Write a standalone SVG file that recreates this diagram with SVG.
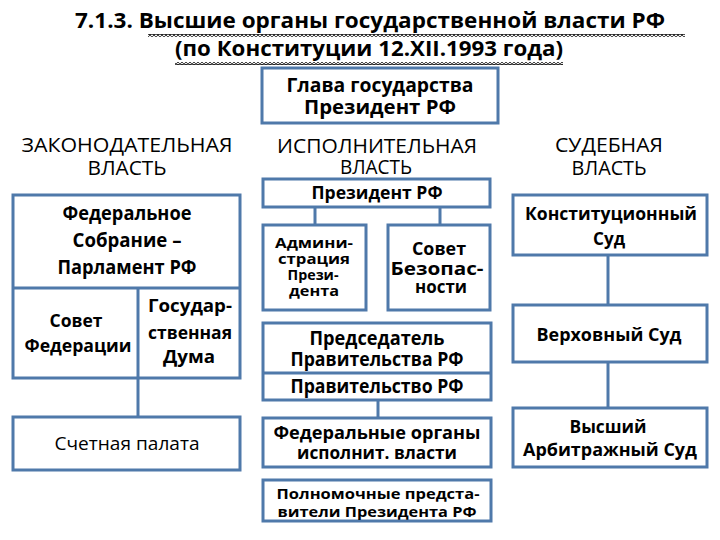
<svg xmlns="http://www.w3.org/2000/svg" width="720" height="540" viewBox="0 0 720 540">
<style>
.box{fill:#ffffff;stroke:#4F79AA;stroke-width:3}
.conn line{stroke:#4F79AA;stroke-width:3}
text{font-family:"Open Sans","Noto Sans",sans-serif;fill:#000;text-anchor:middle;font-weight:bold}
.h{font-weight:normal;font-size:20px}
.title{font-size:22px;text-anchor:start}
.n{font-weight:normal}
</style>
<defs>
<pattern id="wave" width="4" height="3" patternUnits="userSpaceOnUse">
<path d="M0,0.5 L2,2.5 L4,0.5" fill="none" stroke="#111" stroke-width="1.2"/>
</pattern>
</defs>
<rect width="720" height="540" fill="#ffffff"/>
<g id="title">
<text class="title" x="75" y="28" textLength="590" lengthAdjust="spacingAndGlyphs">7.1.3. Высшие органы государственной власти РФ</text>
<text class="title" x="175" y="56" textLength="388" lengthAdjust="spacingAndGlyphs">(по Конституции 12.XII.1993 года)</text>
<rect x="148" y="34" width="537" height="3" fill="url(#wave)"/>
<rect x="175" y="62" width="388" height="3" fill="url(#wave)"/>
</g>
<g id="headers">
<text class="h" x="127" y="152" textLength="211" lengthAdjust="spacingAndGlyphs">ЗАКОНОДАТЕЛЬНАЯ</text>
<text class="h" x="127" y="175" textLength="79" lengthAdjust="spacingAndGlyphs">ВЛАСТЬ</text>
<text class="h" x="377" y="153" textLength="200" lengthAdjust="spacingAndGlyphs">ИСПОЛНИТЕЛЬНАЯ</text>
<text class="h" x="376" y="174" textLength="72" lengthAdjust="spacingAndGlyphs">ВЛАСТЬ</text>
<text class="h" x="609" y="152" textLength="108" lengthAdjust="spacingAndGlyphs">СУДЕБНАЯ</text>
<text class="h" x="609" y="175" textLength="75" lengthAdjust="spacingAndGlyphs">ВЛАСТЬ</text>
</g>
<g id="connectors" class="conn">
<line x1="315" y1="207" x2="315" y2="225"/>
<line x1="440" y1="207" x2="440" y2="225"/>
<line x1="378" y1="400" x2="378" y2="418"/>
<line x1="138" y1="378" x2="138" y2="417"/>
<line x1="608" y1="255" x2="608" y2="305"/>
<line x1="608" y1="362" x2="608" y2="408"/>
</g>
<g id="head-of-state">
<rect class="box" x="262" y="68" width="236" height="55"/>
<text x="380" y="92" font-size="20" textLength="187" lengthAdjust="spacingAndGlyphs">Глава государства</text>
<text x="380" y="114" font-size="20" textLength="152" lengthAdjust="spacingAndGlyphs">Президент РФ</text>
</g>
<g id="president">
<rect class="box" x="263" y="179" width="227" height="28"/>
<text x="377" y="199" font-size="18" textLength="131" lengthAdjust="spacingAndGlyphs">Президент РФ</text>
</g>
<g id="administration">
<rect class="box" x="263" y="225" width="103" height="85"/>
<text x="314" y="248" font-size="15" textLength="78" lengthAdjust="spacingAndGlyphs">Админи-</text>
<text x="314" y="264" font-size="15" textLength="72" lengthAdjust="spacingAndGlyphs">страция</text>
<text x="313" y="280" font-size="15" textLength="51" lengthAdjust="spacingAndGlyphs">Прези-</text>
<text x="314" y="296" font-size="15" textLength="50" lengthAdjust="spacingAndGlyphs">дента</text>
</g>
<g id="security-council">
<rect class="box" x="388" y="225" width="102" height="85"/>
<text x="439" y="255" font-size="17" textLength="54" lengthAdjust="spacingAndGlyphs">Совет</text>
<text x="437" y="275" font-size="17" textLength="93" lengthAdjust="spacingAndGlyphs">Безопас-</text>
<text x="441" y="293" font-size="17" textLength="52" lengthAdjust="spacingAndGlyphs">ности</text>
</g>
<g id="government">
<rect class="box" x="263" y="323" width="228" height="77"/>
<line x1="263" y1="373" x2="491" y2="373" stroke="#4F79AA" stroke-width="3"/>
<text x="377" y="345" font-size="19" textLength="135" lengthAdjust="spacingAndGlyphs">Председатель</text>
<text x="377" y="366" font-size="19" textLength="173" lengthAdjust="spacingAndGlyphs">Правительства РФ</text>
<text x="377" y="393" font-size="19" textLength="173" lengthAdjust="spacingAndGlyphs">Правительство РФ</text>
</g>
<g id="federal-executive">
<rect class="box" x="263" y="418" width="228" height="49"/>
<text x="377" y="439" font-size="18" textLength="207" lengthAdjust="spacingAndGlyphs">Федеральные органы</text>
<text x="377" y="459" font-size="18" textLength="160" lengthAdjust="spacingAndGlyphs">исполнит. власти</text>
</g>
<g id="plenipotentiaries">
<rect class="box" x="263" y="480" width="228" height="41"/>
<text x="378" y="499" font-size="15" textLength="203" lengthAdjust="spacingAndGlyphs">Полномочные предста-</text>
<text x="377" y="517" font-size="15" textLength="199" lengthAdjust="spacingAndGlyphs">вители Президента РФ</text>
</g>
<g id="federal-assembly">
<rect class="box" x="13" y="195" width="227" height="183"/>
<line x1="13" y1="288" x2="240" y2="288" stroke="#4F79AA" stroke-width="3"/>
<line x1="138" y1="288" x2="138" y2="378" stroke="#4F79AA" stroke-width="3"/>
<text x="127" y="220" font-size="19" textLength="129" lengthAdjust="spacingAndGlyphs">Федеральное</text>
<text x="127" y="247" font-size="19" textLength="109" lengthAdjust="spacingAndGlyphs">Собрание –</text>
<text x="127" y="274" font-size="19" textLength="139" lengthAdjust="spacingAndGlyphs">Парламент РФ</text>
<text x="76" y="327" font-size="18" textLength="53" lengthAdjust="spacingAndGlyphs">Совет</text>
<text x="78" y="352" font-size="18" textLength="107" lengthAdjust="spacingAndGlyphs">Федерации</text>
<text x="190" y="312" font-size="18" textLength="84" lengthAdjust="spacingAndGlyphs">Государ-</text>
<text x="190" y="339" font-size="18" textLength="84" lengthAdjust="spacingAndGlyphs">ственная</text>
<text x="189" y="363" font-size="18" textLength="52" lengthAdjust="spacingAndGlyphs">Дума</text>
</g>
<g id="accounts-chamber">
<rect class="box" x="13" y="417" width="227" height="53"/>
<text class="n" x="127" y="450" font-size="18" textLength="145" lengthAdjust="spacingAndGlyphs">Счетная палата</text>
</g>
<g id="constitutional-court">
<rect class="box" x="513" y="195" width="194" height="60"/>
<text x="611" y="220" font-size="18" textLength="172" lengthAdjust="spacingAndGlyphs">Конституционный</text>
<text x="609" y="245" font-size="18" textLength="32" lengthAdjust="spacingAndGlyphs">Суд</text>
</g>
<g id="supreme-court">
<rect class="box" x="513" y="305" width="194" height="57"/>
<text x="609" y="341" font-size="18" textLength="145" lengthAdjust="spacingAndGlyphs">Верховный Суд</text>
</g>
<g id="arbitration-court">
<rect class="box" x="513" y="408" width="194" height="59"/>
<text x="608" y="433" font-size="18" textLength="77" lengthAdjust="spacingAndGlyphs">Высший</text>
<text x="610" y="456" font-size="18" textLength="174" lengthAdjust="spacingAndGlyphs">Арбитражный Суд</text>
</g>
</svg>
